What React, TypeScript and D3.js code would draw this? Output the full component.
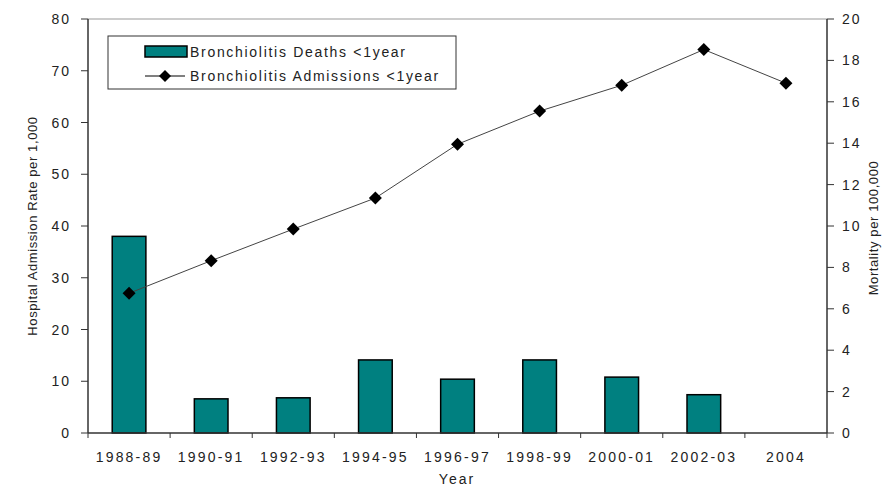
import React from "react";
import * as d3 from "d3";

const categories = ["1988-89", "1990-91", "1992-93", "1994-95", "1996-97", "1998-99", "2000-01", "2002-03", "2004"];
const deaths: (number | null)[] = [9.5, 1.65, 1.7, 3.53, 2.6, 3.53, 2.7, 1.85, null];
const admissions = [27.0, 33.3, 39.4, 45.4, 55.8, 62.2, 67.2, 74.1, 67.6];
const leftTicks = [0, 10, 20, 30, 40, 50, 60, 70, 80];
const rightTicks = [0, 2, 4, 6, 8, 10, 12, 14, 16, 18, 20];

const W = 883;
const H = 486;
const L = 88;
const R = 827;
const T = 19;
const B = 433;
const FONT = "'Liberation Sans', Arial, sans-serif";
const TEAL = "#008080";
const TXT = "#222";

export default function App() {
  const x = d3.scaleBand<string>().domain(categories).range([L, R]).padding(0);
  const yL = d3.scaleLinear().domain([0, 80]).range([B, T]);
  const yR = d3.scaleLinear().domain([0, 20]).range([B, T]);
  const bw = x.bandwidth() * 0.41;
  const cx = (c: string) => (x(c) ?? 0) + x.bandwidth() / 2;
  const line = d3
    .line<number>()
    .x((_, i) => cx(categories[i]))
    .y((d) => yL(d));
  const diamond = (px: number, py: number, r = 6.5) =>
    `M${px},${py - r}L${px + r},${py}L${px},${py + r}L${px - r},${py}Z`;
  const boundaries = categories.map((c) => x(c) ?? 0).concat([R]);

  return (
    <svg width={W} height={H} style={{ position: "absolute", left: 0, top: 0, background: "#fff" }} fontFamily={FONT}>
      <rect x={0} y={0} width={W} height={H} fill="#fff" />
      {/* top border */}
      <line x1={L} x2={R} y1={T} y2={T} stroke="#999" strokeWidth={1} />
      {/* bars */}
      {categories.map((c, i) =>
        deaths[i] == null ? null : (
          <rect
            key={c}
            x={cx(c) - bw / 2}
            y={yR(deaths[i] as number)}
            width={bw}
            height={B - yR(deaths[i] as number)}
            fill={TEAL}
            stroke="#000"
            strokeWidth={1.5}
          />
        )
      )}
      {/* line */}
      <path d={line(admissions) ?? ""} fill="none" stroke="#444" strokeWidth={1} />
      {admissions.map((v, i) => (
        <path key={i} d={diamond(cx(categories[i]), yL(v))} fill="#000" />
      ))}
      {/* left axis */}
      <line x1={L} x2={L} y1={T} y2={B} stroke="#333" strokeWidth={1.5} />
      {leftTicks.map((t) => (
        <g key={t}>
          <line x1={L - 7} x2={L} y1={yL(t)} y2={yL(t)} stroke="#333" />
          <text x={71} y={yL(t)} dy="0.36em" textAnchor="end" fontSize={14} letterSpacing={2} fill={TXT}>
            {t}
          </text>
        </g>
      ))}
      {/* right axis */}
      <line x1={R} x2={R} y1={T} y2={B} stroke="#333" strokeWidth={1.5} />
      {rightTicks.map((t) => (
        <g key={t}>
          <line x1={R} x2={R + 7} y1={yR(t)} y2={yR(t)} stroke="#333" />
          <text x={842} y={yR(t)} dy="0.36em" textAnchor="start" fontSize={14} letterSpacing={2} fill={TXT}>
            {t}
          </text>
        </g>
      ))}
      {/* bottom axis */}
      <line x1={L} x2={R} y1={B} y2={B} stroke="#333" strokeWidth={1.5} />
      {boundaries.map((bx, i) => (
        <line key={i} x1={bx} x2={bx} y1={B} y2={B + 5} stroke="#333" />
      ))}
      {categories.map((c) => (
        <text key={c} x={cx(c)} y={462} textAnchor="middle" fontSize={14} letterSpacing={2.2} fill={TXT}>
          {c}
        </text>
      ))}
      <text x={457} y={484} textAnchor="middle" fontSize={14} letterSpacing={2} fill={TXT}>
        Year
      </text>
      <text
        transform={`translate(37,226) rotate(-90)`}
        textAnchor="middle"
        fontSize={13}
        letterSpacing={0.6}
        fill={TXT}
      >
        Hospital Admission Rate per 1,000
      </text>
      <text
        transform={`translate(878,228) rotate(-90)`}
        textAnchor="middle"
        fontSize={13}
        letterSpacing={0.6}
        fill={TXT}
      >
        Mortality per 100,000
      </text>
      {/* legend */}
      <rect x={108} y={36} width={348} height={53} fill="#fff" stroke="#333" strokeWidth={1} />
      <rect x={145} y={46} width={42} height={11} fill={TEAL} stroke="#000" strokeWidth={1.5} />
      <text x={190} y={52} dy="0.36em" fontSize={14} letterSpacing={1.7} fill={TXT}>
        Bronchiolitis Deaths &lt;1year
      </text>
      <line x1={145} x2={185} y1={76} y2={76} stroke="#000" strokeWidth={1} />
      <path d={diamond(165, 76, 6)} fill="#000" />
      <text x={190} y={76} dy="0.36em" fontSize={14} letterSpacing={1.7} fill={TXT}>
        Bronchiolitis Admissions &lt;1year
      </text>
    </svg>
  );
}
